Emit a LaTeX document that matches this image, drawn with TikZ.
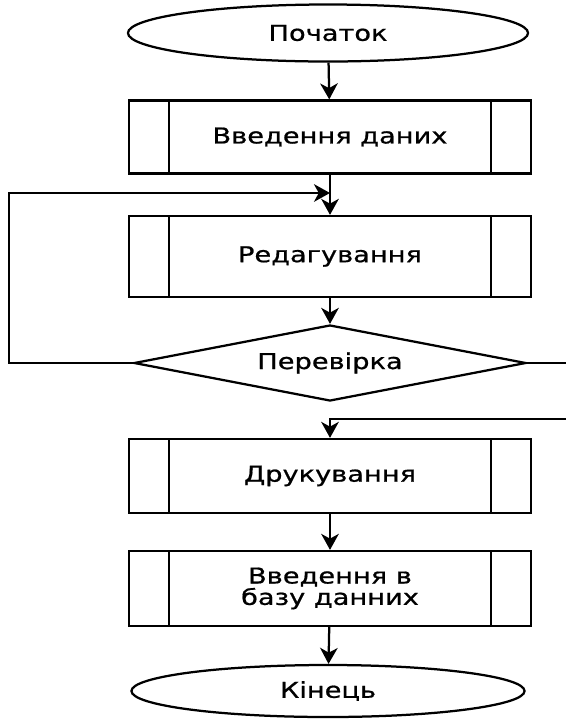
\documentclass[tikz,border=0pt]{standalone}
\usepackage{fontspec}
\setmainfont[FakeStretch=1.25,FakeBold=0.8]{DejaVu Sans}
\usetikzlibrary{shapes.geometric,arrows.meta}

\begin{document}
\begin{tikzpicture}[x=0.025cm,y=-0.025cm,line width=1.6pt,
        font=\fontsize{15.5pt}{13.5pt}\selectfont,
        arr/.style={-{Stealth[length=4mm,width=4.4mm,inset=1.2mm]}},
        term/.style={draw,ellipse,inner sep=0pt,minimum width=10cm,minimum height=1.425cm},
        procbox/.style={draw,rectangle,inner sep=0pt,minimum width=10.05cm,align=center,
            path picture={\draw ([xshift=1cm]path picture bounding box.north west) -- ([xshift=1cm]path picture bounding box.south west)
                ([xshift=-1cm]path picture bounding box.north east) -- ([xshift=-1cm]path picture bounding box.south east);}},
        check/.style={draw,diamond,inner sep=0pt,aspect=5,minimum width=9.8cm,minimum height=1.9cm}]
        \useasboundingbox (0,0) rectangle (566,719);
        \node[term] (start) at (328,33) {Початок};
        \node[procbox,minimum height=1.825cm] (b1) at (330,137) {Введення даних};
        \node[procbox,minimum height=2.025cm] (b2) at (330,256.5) {Редагування};
        \node[check] (chk) at (330,363) {Перевірка};
        \node[procbox,minimum height=1.85cm] (b3) at (330,476) {Друкування};
        \node[procbox,minimum height=1.875cm] (b4) at (330,588.5) {Введення в\\базу данних};
        \node[term,minimum width=9.825cm,minimum height=1.3cm] (end) at (328,691) {Кінець};
        % points of the two loops
        \coordinate (back) at (9,193);
        \coordinate (join) at (330,193);
        \coordinate (rgt) at (600,363);
        \coordinate (merge) at (330,419);
        \draw[arr] (start) -- (b1);
        \draw[arr] (b1) -- (b2);
        \draw[arr] (b2) -- (chk);
        \draw[arr] (chk.west) -| (back) -- (join);
        \draw[arr] (chk.east) -- (rgt) |- (merge) -- (b3);
        \draw[arr] (b3) -- (b4);
        \draw[arr] (b4) -- (end);
\end{tikzpicture}
\end{document}
